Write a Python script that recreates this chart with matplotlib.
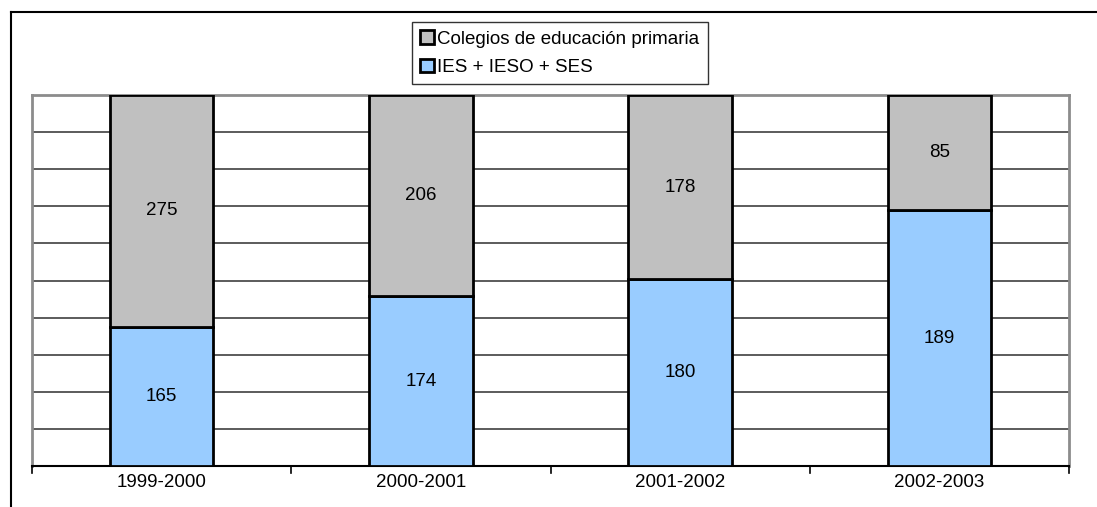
import matplotlib
matplotlib.use('Agg')
import matplotlib.pyplot as plt
import numpy as np
from matplotlib.lines import Line2D

# datos
cursos = ['1999-2000', '2000-2001', '2001-2002', '2002-2003']
ies = [165, 174, 180, 189]
colegios = [275, 206, 178, 85]

plt.rcParams['font.family'] = ['Liberation Sans', 'DejaVu Sans']

W, H = 1097, 507
fig = plt.figure(figsize=(W / 100, H / 100), dpi=100)
ax = fig.add_axes([32 / W, (H - 466) / H, (1069 - 32) / W, (466 - 95) / H])

ies_a = np.array(ies, dtype=float)
col_a = np.array(colegios, dtype=float)
tot = ies_a + col_a
p_ies = ies_a / tot * 100
p_col = col_a / tot * 100

fs = 13.5
x = np.arange(len(cursos))
bw = 0.4
b1 = ax.bar(x, p_ies, bw, color='#99ccff', edgecolor='black', linewidth=2, zorder=3,
            label='IES + IESO + SES')
b2 = ax.bar(x, p_col, bw, bottom=p_ies, color='#c0c0c0', edgecolor='black', linewidth=2,
            zorder=3, label='Colegios de educación primaria')

for i in range(len(cursos)):
    ax.text(x[i], p_ies[i] / 2, str(ies[i]), ha='center', va='center', fontsize=fs, zorder=4)
    ax.text(x[i], p_ies[i] + p_col[i] / 2, str(colegios[i]), ha='center', va='center',
            fontsize=fs, zorder=4)

ax.set_xlim(-0.5, len(cursos) - 0.5)
ax.set_ylim(0, 100)
ax.set_yticks(np.arange(0, 101, 10))
ax.yaxis.grid(True, color='#404040', linewidth=1.2, zorder=1)
ax.tick_params(axis='y', left=False, labelleft=False)

ax.set_xticks(x)
ax.set_xticklabels(cursos, fontsize=fs)
ax.tick_params(axis='x', length=0, pad=6)
# marcas entre categorias
for b in np.arange(-0.5, len(cursos), 1.0):
    ax.plot([b, b], [0, -2], color='black', linewidth=1.2, clip_on=False, zorder=5)

for s in ['left', 'right', 'top']:
    ax.spines[s].set_color('#8c8c8c')
    ax.spines[s].set_linewidth(2)
ax.spines['bottom'].set_color('black')
ax.spines['bottom'].set_linewidth(1.5)

leg = fig.legend(handles=[b2, b1], loc='upper left',
                 bbox_to_anchor=(412 / W, 1 - 22 / H), frameon=True, fancybox=False,
                 edgecolor='black', fontsize=fs, handlelength=0.7, handleheight=0.7,
                 handletextpad=0.2, borderpad=0.45, labelspacing=0.6, borderaxespad=0)
leg.get_frame().set_linewidth(1)

# marco exterior
fig.add_artist(Line2D([11 / W, 11 / W], [0, 1 - 12 / H], color='black', linewidth=1.5,
                      transform=fig.transFigure))
fig.add_artist(Line2D([11 / W, 1], [1 - 12 / H, 1 - 12 / H], color='black', linewidth=1.5,
                      transform=fig.transFigure))

fig.savefig('out.png', dpi=100)
